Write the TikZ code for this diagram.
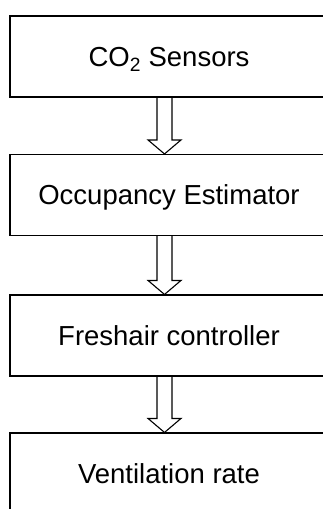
\documentclass[tikz,border=0pt]{standalone}
\usepackage{fontspec}
\setmainfont{Liberation Sans}
\usetikzlibrary{calc}
\begin{document}
\begin{tikzpicture}[x=1pt,y=1pt,
        box/.style={draw,line width=1.1pt,minimum width=318pt,minimum height=81pt,inner sep=0pt,
            text height=19.7pt,text depth=0pt,font=\fontsize{27.5}{33}\selectfont},
        fat/.style={draw,line width=1.1pt,line join=miter}]
                \useasboundingbox(0,0)rectangle(323,-509);
                \node[box](1)at(169,-56.5){CO\textsubscript{2} Sensors};
                \node[box](2)at(169,-195){Occupancy Estimator};
                \node[box](3)at(169,-335.5){Freshair controller};
                \node[box](4)at(169,-473.5){Ventilation rate};

                \draw[fat]($(1.south)+(-12,0)$)--($(2.north)+(-12,14)$)--++(-9,0)--($(2.north)+(-4.5,0)$)--++(16.5,14)--++(-9,0)--($(1.south)+(3,0)$);
                \draw[fat]($(2.south)+(-12,0)$)--($(3.north)+(-12,14)$)--++(-9,0)--($(3.north)+(-4.5,0)$)--++(16.5,14)--++(-9,0)--($(2.south)+(3,0)$);
                \draw[fat]($(3.south)+(-12,0)$)--($(4.north)+(-12,14)$)--++(-9,0)--($(4.north)+(-4.5,0)$)--++(16.5,14)--++(-9,0)--($(3.south)+(3,0)$);
            \end{tikzpicture}
\end{document}
